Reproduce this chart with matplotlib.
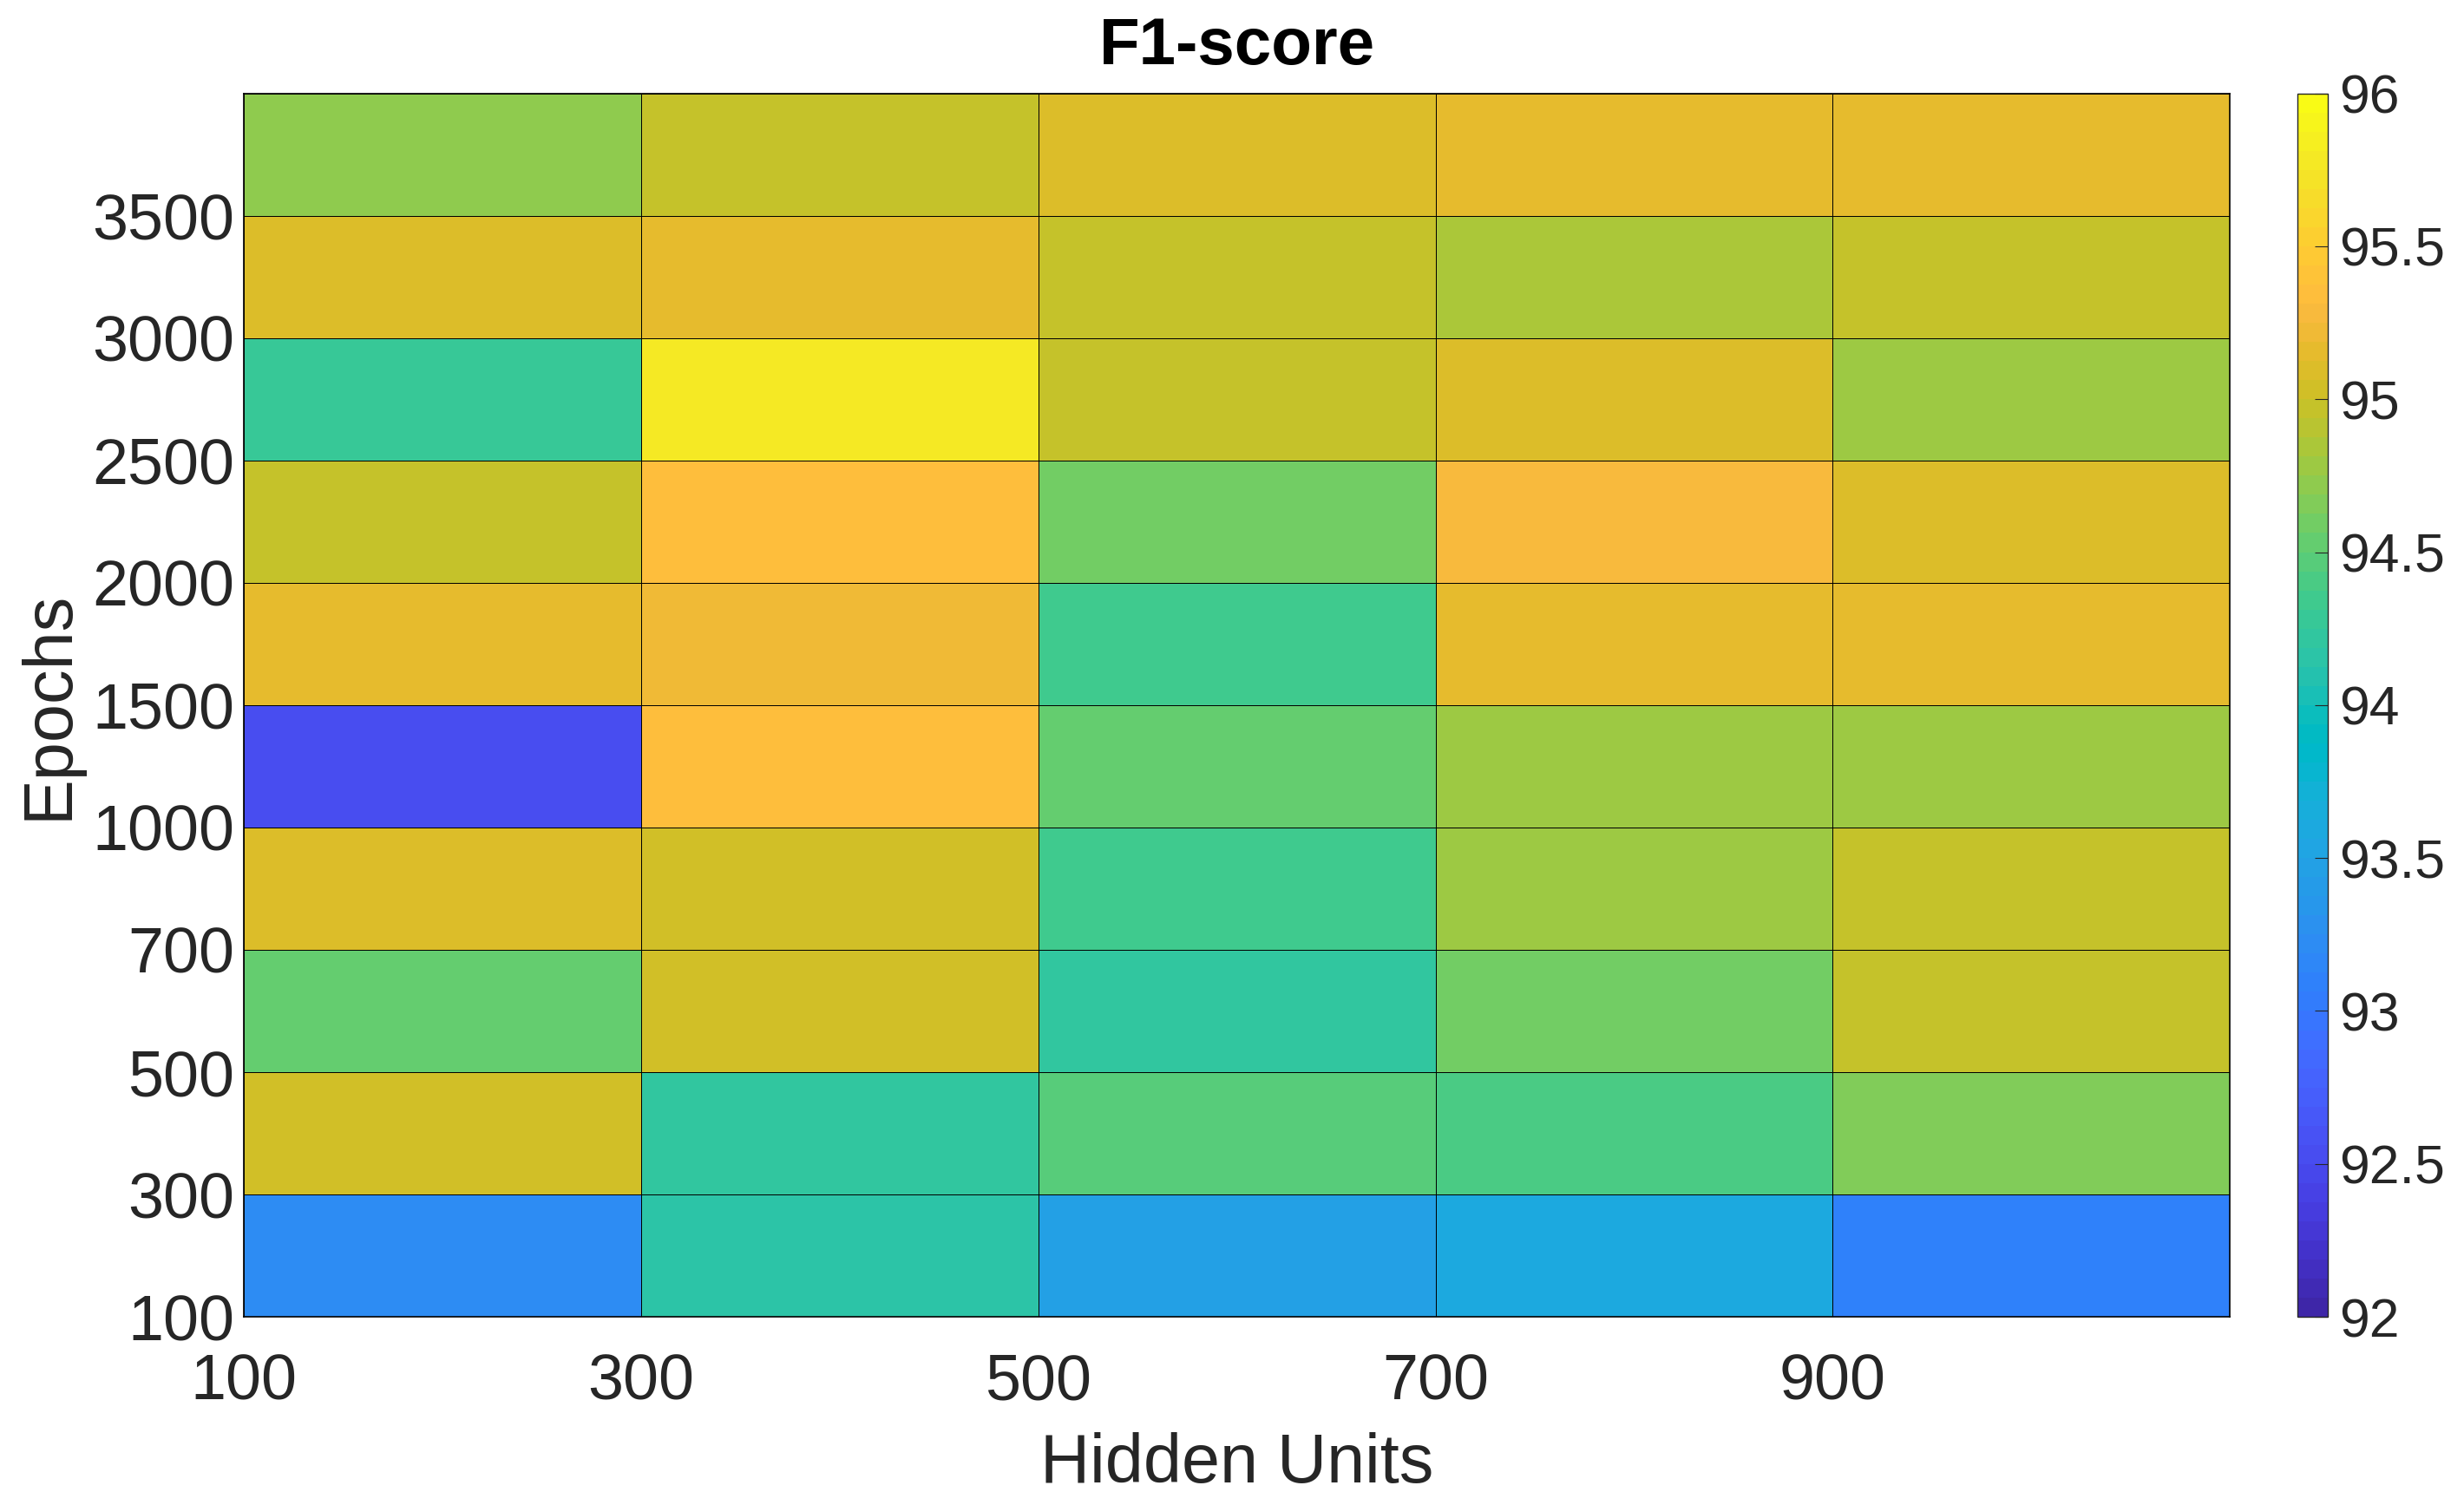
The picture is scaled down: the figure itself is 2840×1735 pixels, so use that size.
# F1-score heatmap: hidden units vs epochs (parula-style colours)
import numpy as np
import matplotlib
matplotlib.use('Agg')
import matplotlib.pyplot as plt
from matplotlib.colors import ListedColormap

# axis labels
hidden_units = ['100', '300', '500', '700', '900']
epochs = ['100', '300', '500', '700', '1000', '1500', '2000', '2500', '3000', '3500']

# f1 scores, one list per epoch row (bottom row first), columns follow hidden_units
f1_100 = [93.21, 94.16, 93.49, 93.59, 93.10]
f1_300 = [95.05, 94.22, 94.45, 94.41, 94.63]
f1_500 = [94.51, 95.02, 94.19, 94.60, 94.99]
f1_700 = [95.08, 95.05, 94.32, 94.79, 94.94]
f1_1000 = [92.54, 95.37, 94.51, 94.79, 94.76]
f1_1500 = [95.13, 95.20, 94.35, 95.15, 95.14]
f1_2000 = [94.95, 95.37, 94.62, 95.28, 95.12]
f1_2500 = [94.29, 95.75, 94.95, 95.10, 94.79]
f1_3000 = [95.12, 95.17, 94.98, 94.87, 94.95]
f1_3500 = [94.70, 94.95, 95.10, 95.18, 95.18]

scores = np.array([f1_100, f1_300, f1_500, f1_700, f1_1000,
                   f1_1500, f1_2000, f1_2500, f1_3000, f1_3500])

# matlab parula colormap (64 entries)
parula = ListedColormap([
    [0.2422, 0.1504, 0.6603], [0.2504, 0.1650, 0.7076], [0.2578, 0.1818, 0.7511],
    [0.2647, 0.1978, 0.7952], [0.2706, 0.2147, 0.8364], [0.2751, 0.2342, 0.8710],
    [0.2783, 0.2559, 0.8991], [0.2803, 0.2782, 0.9221], [0.2813, 0.3006, 0.9414],
    [0.2810, 0.3228, 0.9579], [0.2795, 0.3447, 0.9717], [0.2760, 0.3667, 0.9829],
    [0.2699, 0.3892, 0.9906], [0.2602, 0.4123, 0.9952], [0.2440, 0.4358, 0.9988],
    [0.2206, 0.4603, 0.9973], [0.1963, 0.4847, 0.9892], [0.1834, 0.5074, 0.9798],
    [0.1786, 0.5289, 0.9682], [0.1764, 0.5499, 0.9520], [0.1687, 0.5703, 0.9359],
    [0.1540, 0.5902, 0.9218], [0.1460, 0.6091, 0.9079], [0.1380, 0.6276, 0.8973],
    [0.1248, 0.6459, 0.8883], [0.1113, 0.6635, 0.8763], [0.0952, 0.6798, 0.8598],
    [0.0689, 0.6948, 0.8394], [0.0297, 0.7082, 0.8163], [0.0036, 0.7203, 0.7917],
    [0.0067, 0.7312, 0.7660], [0.0433, 0.7411, 0.7394], [0.0964, 0.7500, 0.7120],
    [0.1408, 0.7584, 0.6842], [0.1717, 0.7670, 0.6554], [0.1938, 0.7758, 0.6251],
    [0.2161, 0.7843, 0.5923], [0.2470, 0.7918, 0.5567], [0.2906, 0.7973, 0.5188],
    [0.3406, 0.8008, 0.4789], [0.3909, 0.8029, 0.4354], [0.4456, 0.8024, 0.3909],
    [0.5044, 0.7993, 0.3480], [0.5616, 0.7942, 0.3045], [0.6174, 0.7876, 0.2612],
    [0.6720, 0.7793, 0.2227], [0.7242, 0.7698, 0.1910], [0.7738, 0.7598, 0.1646],
    [0.8203, 0.7498, 0.1535], [0.8634, 0.7406, 0.1596], [0.9035, 0.7330, 0.1774],
    [0.9393, 0.7288, 0.2100], [0.9728, 0.7298, 0.2394], [0.9956, 0.7434, 0.2371],
    [0.9970, 0.7659, 0.2199], [0.9952, 0.7893, 0.2028], [0.9892, 0.8136, 0.1885],
    [0.9786, 0.8386, 0.1766], [0.9676, 0.8639, 0.1643], [0.9610, 0.8890, 0.1537],
    [0.9597, 0.9135, 0.1423], [0.9628, 0.9373, 0.1265], [0.9691, 0.9606, 0.1064],
    [0.9769, 0.9839, 0.0805]], name='parula')

plt.rcParams['font.family'] = ['Liberation Sans', 'DejaVu Sans']
txt = '#262626'

fig = plt.figure(figsize=(28.4, 17.35), dpi=100)
ax = fig.add_axes([0.099, 0.125, 0.806, 0.813])
cax = fig.add_axes([0.9325, 0.125, 0.0123, 0.813])

mesh = ax.pcolormesh(np.arange(len(hidden_units) + 1), np.arange(len(epochs) + 1), scores,
                     cmap=parula, vmin=92, vmax=96, edgecolors='black', linewidth=0.6)

ax.set_xticks(np.arange(len(hidden_units)))
ax.set_xticklabels(hidden_units)
ax.set_yticks(np.arange(len(epochs)))
ax.set_yticklabels(epochs)
ax.tick_params(axis='both', length=0, labelsize=53, colors=txt)
ax.tick_params(axis='x', pad=30)
ax.tick_params(axis='y', pad=8)
for s in ax.spines.values():
    s.set_linewidth(1.2)
    s.set_color('black')

ax.set_xlabel('Hidden Units', fontsize=57, color=txt, labelpad=16)
ax.set_ylabel('Epochs', fontsize=57, color=txt, labelpad=8)
ax.set_title('F1-score', fontsize=55, fontweight='bold', pad=24)

cb = fig.colorbar(mesh, cax=cax)
cb.set_ticks(np.arange(92, 96.01, 0.5))
cb.set_ticklabels(['92', '92.5', '93', '93.5', '94', '94.5', '95', '95.5', '96'])
cb.ax.tick_params(direction='in', length=11, width=0.8, labelsize=45, colors=txt, pad=9)
cb.outline.set_linewidth(1.0)
cb.outline.set_edgecolor(txt)

fig.savefig('out.png', dpi=100)
